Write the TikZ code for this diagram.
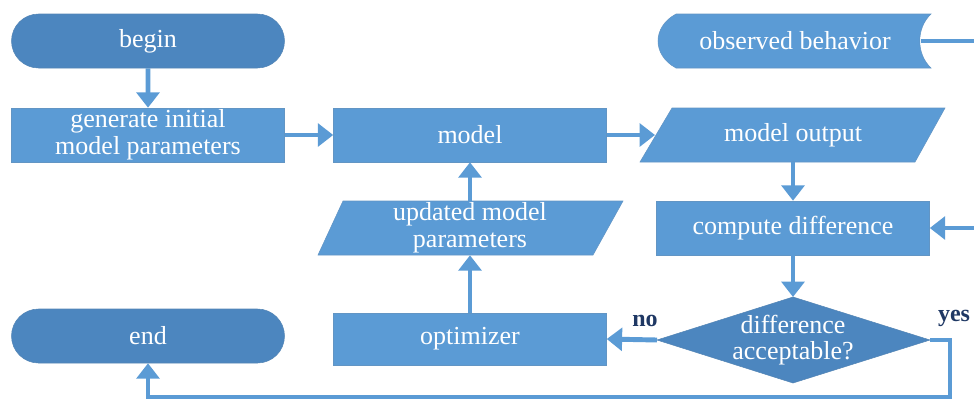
\documentclass[tikz,border=0pt]{standalone}
\usepackage{fontspec}
\setmainfont{Liberation Serif}
\usetikzlibrary{shapes.geometric,shapes.misc,arrows.meta}
\definecolor{boxblue}{HTML}{5B9BD5}
\definecolor{darkbox}{HTML}{4C86BF}
\definecolor{lblue}{HTML}{1F3864}
\tikzset{
  txt/.style={text=white, font=\fontsize{19.5}{20}\selectfont, align=center},
  box/.style={rectangle, fill=boxblue, draw=boxblue!80!gray, line width=0.4pt, minimum width=204.75pt, minimum height=40.5pt, inner sep=0pt, txt},
  term/.style={rounded rectangle, fill=darkbox, draw=darkbox!85!gray, line width=0.4pt, minimum width=204.75pt, minimum height=40.5pt, inner sep=0pt, txt},
  ghost/.style={rectangle, minimum width=204.75pt, minimum height=40.5pt, inner sep=0pt, txt},
  shapefill/.style={fill=boxblue, draw=boxblue!80!gray, line width=0.4pt},
  arr/.style={draw=boxblue, line width=3.7pt, -{Triangle[length=11.5pt,width=17pt]}},
  lbl/.style={text=lblue, font=\bfseries\fontsize{18}{18}\selectfont, inner sep=0pt},
}
\begin{document}
\begin{tikzpicture}[x=0.75pt,y=-0.75pt]
\useasboundingbox (0,0) rectangle (974,401);
\clip (0,0) rectangle (974,401);
% shapes drawn as paths
\filldraw[shapefill] (672,108) -- (945,108) -- (915,162) -- (640,162) -- cycle;
\filldraw[shapefill] (343,201) -- (623,201) -- (593,255) -- (318,255) -- cycle;
\filldraw[shapefill] (676,14) -- (931,14) .. controls (916,28) and (916,54) .. (931,68) -- (676,68) .. controls (652,55) and (652,27) .. (676,14) -- cycle;
\filldraw[fill=darkbox, draw=darkbox!85!gray, line width=0.4pt] (657,340) -- (793,297) -- (930,340) -- (793,383) -- cycle;

% nodes
\node[term] (begin) at (148,41) {begin};
\node[box] (gen) at (148,135) {generate initial\\model parameters};
\node[box] (model) at (470,135) {model};
\node[ghost, minimum width=228pt] (out) at (793,135) {model output};
\node[ghost] (obs) at (795,41) {observed behavior};
\node[box] (cd) at (793,228) {compute difference};
\node[ghost, minimum width=228pt] (upd) at (470,228) {updated model\\parameters};
\node[box, minimum height=39pt] (opt) at (470,339) {optimizer};
\node[term] (end) at (148,336) {end};
\node[ghost, minimum width=204.75pt, minimum height=64.5pt] (dia) at (793,340) {difference\\acceptable?};

\coordinate (obsr) at (921,41);
\coordinate (rtop) at (977,41);
\coordinate (dr) at (930,340);
\coordinate (dl) at (657,340);
\coordinate (yc) at (950,340);
\coordinate (yb) at (950,397);
\coordinate (otip) at (655,135);
\coordinate (dtop) at (793,297);

% connectors
\draw[arr] (begin) -- (gen);
\draw[arr] (gen) -- (model);
\draw[arr] (model.east) -- (otip);
\draw[arr] (out) -- (cd);
\draw[arr] (cd) -- (dtop);
\draw[arr] (dl) -- (opt.east);
\draw[arr] (opt) -- (upd);
\draw[arr] (upd) -- (model);
\draw[arr] (obsr) -- (rtop) |- (cd.east);
\draw[arr] (dr) -- (yc) -- (yb) -| (end.south);

\node[lbl] (no) at (645,321) {no};
\node[lbl] (yes) at (954,318) {yes};
\end{tikzpicture}
\end{document}
